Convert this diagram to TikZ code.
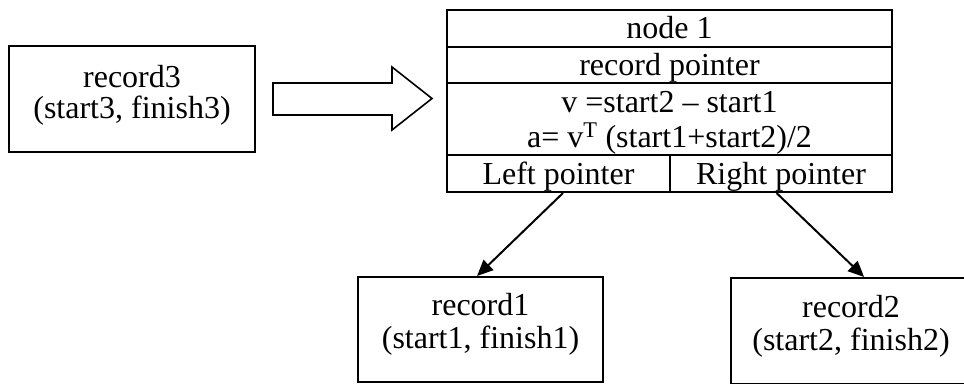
\documentclass[tikz,border=0pt]{standalone}
\usepackage{fontspec}
\setmainfont{Liberation Serif}
\usetikzlibrary{arrows.meta,calc}

\tikzset{
  frame/.style={draw, line width=2pt, inner sep=0pt, rectangle},
  label/.style={inner sep=0pt, anchor=base, font=\fontsize{32pt}{36pt}\selectfont},
  link/.style={line width=2pt, -{Triangle[length=16pt,width=14pt]}},
  bigarrow/.style={draw, line width=1.6pt, line join=miter}
}

\begin{document}
\begin{tikzpicture}[x=1pt, y=-1pt]
  \useasboundingbox (0,0) rectangle (964,383);
  \clip (0,0) rectangle (964,383);

  % record being inserted
  \node[frame, minimum width=246pt, minimum height=106pt] (rec3) at (132,99) {};
  \node[label] (rec3a) at (132,87) {record3};
  \node[label] (rec3b) at (132,118) {(start3, finish3)};

  % hollow block arrow towards the tree node
  \draw[bigarrow] (273,83) -- (392,83) -- (392,67) -- (432,98.5)
                  -- (392,130) -- (392,115) -- (273,115) -- cycle;

  % tree node laid out as a table
  \node[frame, minimum width=445pt, minimum height=37pt] (title)   at (669.5,28.5) {};
  \node[frame, minimum width=445pt, minimum height=36pt] (recptr)  at (669.5,65)   {};
  \node[frame, minimum width=445pt, minimum height=72pt] (formula) at (669.5,119)  {};
  \node[frame, minimum width=223pt, minimum height=37pt] (leftp)   at (558.5,173.5) {};
  \node[frame, minimum width=222pt, minimum height=37pt] (rightp)  at (781,173.5)  {};

  \node[label] (titletxt)  at (669.5,38)  {node 1};
  \node[label] (recptrtxt) at (669.5,75)  {record pointer};
  \node[label] (vline)     at (669.5,112) {v =start2 – start1};
  \node[label] (aline)     at (669.5,147) {a= v\textsuperscript{T} (start1+start2)/2};
  \node[label] (lefttxt)   at (558.5,184) {Left pointer};
  \node[label] (righttxt)  at (781,184)   {Right pointer};

  % child records
  \node[frame, minimum width=245pt, minimum height=105pt] (rec1) at (480.5,329.5) {};
  \node[label] (rec1a) at (480.5,315) {record1};
  \node[label] (rec1b) at (480.5,348) {(start1, finish1)};

  \node[frame, minimum width=245pt, minimum height=106pt] (rec2) at (853.5,331) {};
  \node[label] (rec2a) at (851,317) {record2};
  \node[label] (rec2b) at (851,350) {(start2, finish2)};

  % child pointers
  \draw[link] ($(leftp.south west)!0.52!(leftp.south east)$)
           -- ($(rec1.north west)!0.486!(rec1.north east)$);
  \draw[link] ($(rightp.south west)!0.48!(rightp.south east)$)
           -- ($(rec2.north west)!0.543!(rec2.north east)$);
\end{tikzpicture}
\end{document}
